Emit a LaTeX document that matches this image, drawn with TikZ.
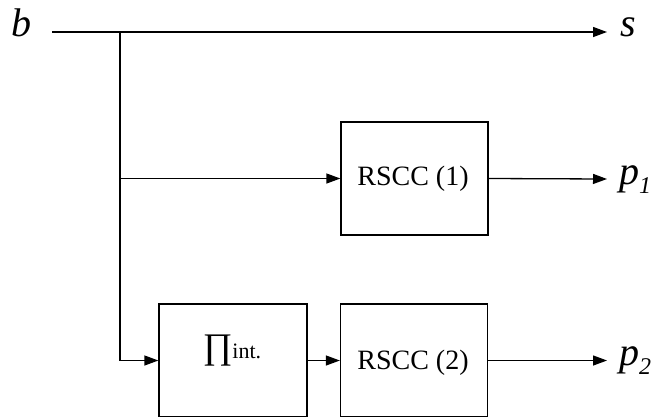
\documentclass[tikz,border=0pt]{standalone}
\usepackage{fontspec}
\setmainfont{Liberation Serif}
\usetikzlibrary{arrows.meta}
\tikzset{
  wire/.style={line width=1.3pt, black},
  arr/.style={wire, -{Triangle[length=14pt,width=10pt]}},
  blockbox/.style={draw, line width=1.3pt, minimum width=147pt, minimum height=113pt, inner sep=0pt},
  blocktext/.style={font=\fontsize{28}{30}\selectfont, inner sep=0pt},
  sig/.style={font=\fontsize{40}{44}\selectfont\itshape, inner sep=0pt, anchor=base west},
}
\newcommand{\subidx}[1]{\raisebox{-9pt}{\fontsize{24}{26}\selectfont\itshape #1}}
\begin{document}
\begin{tikzpicture}[x=1pt, y=-1pt]
  \clip (0,0) rectangle (655,416);

  % blocks
  \node[blockbox] (r1) at (414.5,178.5) {};
  \node[blockbox, minimum width=148pt] (pi) at (233,360.5) {};
  \node[blockbox] (r2) at (414,360.5) {};
  \node[blocktext] (r1t) at (413,179) {RSCC (1)};
  \node[blocktext] (pit) at (232,351) {\fontsize{36}{38}\selectfont ∏\fontsize{22}{24}\selectfont int.};
  \node[blocktext] (r2t) at (413,362.5) {RSCC (2)};

  % signal labels
  \node[sig] (b) at (11,36) {b};
  \node[sig] (s) at (620,36) {s};
  \node[sig] (p1) at (619,184) {p\subidx{1}};
  \node[sig] (p2) at (619,365) {p\subidx{2}};

  % wiring
  \coordinate (bin) at (52,32);
  \coordinate (split) at (120,32);
  \coordinate (sout) at (607,32);
  \coordinate (p1out) at (607,179);
  \coordinate (p2out) at (607,360.5);

  \draw[arr] (bin) -- (sout);
  \draw[arr] (split) |- (pi.west);
  \draw[arr] (split |- r1.west) -- (r1.west);
  \draw[arr] (pi.east) -- (r2.west);
  \draw[arr] (r1.east) -- (p1out);
  \draw[arr] (r2.east) -- (p2out);
\end{tikzpicture}
\end{document}
